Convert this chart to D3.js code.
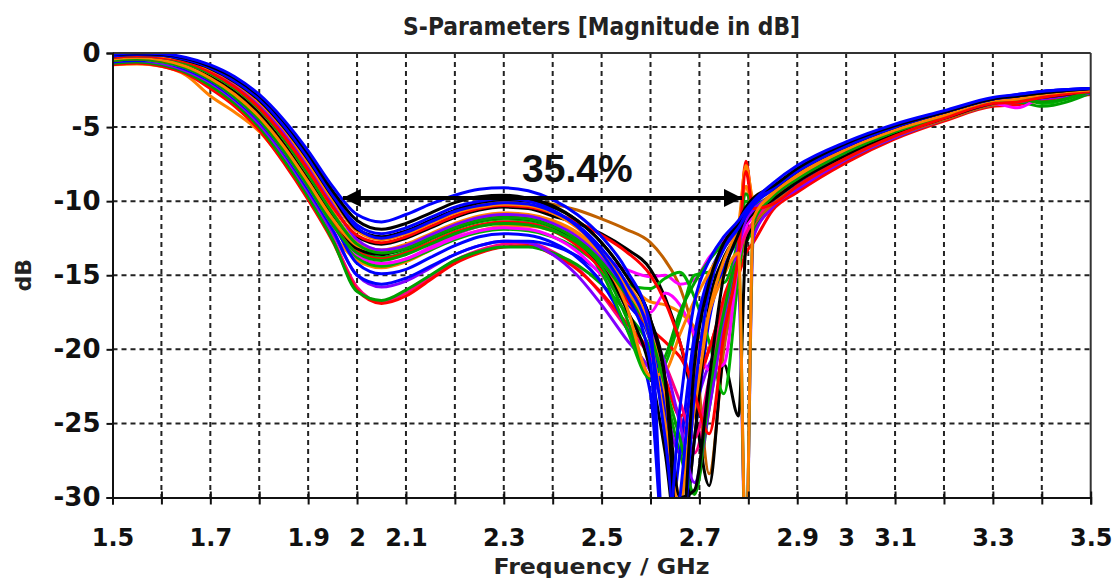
<!DOCTYPE html>
<html><head><meta charset="utf-8">
<script src="https://cdn.jsdelivr.net/npm/d3@7"></script>
<style>body{margin:0;background:#fff}svg{display:block}</style>
</head><body>
<svg id="chart" width="1115" height="578"></svg>
<script>
// ---------- data ----------
const freq = [1.5,1.55,1.6,1.65,1.7,1.75,1.8,1.85,1.9,1.95,2.0,2.05,2.1,2.15,2.2,2.25,2.3,2.35,2.4,2.45,2.5,2.55,2.6,2.63,2.66,2.69,2.72,2.75,2.78,2.795,2.81,2.85,2.9,3.0,3.1,3.2,3.3,3.35,3.4,3.5];

const blue1 = [-0.1,0,-0.05,-0.3,-0.8,-1.6,-2.8,-4.5,-6.6,-9.0,-10.9,-11.4,-10.9,-10.2,-9.6,-9.2,-9.1,-9.3,-9.9,-10.9,-12.4,-14.6,-18.5,-34,-24,-16.8,-14.0,-12.4,-11.3,-10.6,-10.0,-8.8,-7.6,-6.0,-4.8,-3.9,-3.0,-2.8,-2.6,-2.4];
const black1 = [-0.1,-0.05,-0.1,-0.35,-0.9,-1.7,-2.9,-4.6,-6.8,-9.3,-11.3,-11.9,-11.5,-10.8,-10.1,-9.7,-9.6,-9.8,-10.3,-11.3,-12.8,-15.0,-18.0,-22,-34,-21,-15.5,-12.8,-11.4,-10.4,-9.8,-9.0,-7.8,-6.1,-4.9,-4.0,-3.1,-2.9,-2.7,-2.4];
const blue2 = [-0.2,-0.1,-0.15,-0.45,-1.0,-1.9,-3.1,-4.9,-7.1,-9.6,-11.6,-12.2,-11.8,-11.1,-10.4,-10.0,-9.8,-10.0,-10.6,-11.7,-13.5,-16.2,-21,-34,-30,-19.5,-15.5,-13.2,-11.8,-11.0,-10.3,-9.2,-8.0,-6.3,-5.0,-4.0,-3.1,-2.8,-2.6,-2.4];
const red1 = [-0.3,-0.2,-0.3,-0.6,-1.3,-2.3,-3.7,-5.6,-7.9,-10.4,-12.3,-12.8,-12.4,-11.7,-11.0,-10.5,-10.3,-10.4,-10.8,-11.4,-12.3,-13.4,-15.0,-16.8,-19.5,-23,-25.7,-19,-13.5,-8.0,-10.5,-10.2,-9.0,-7.1,-5.6,-4.4,-3.4,-3.3,-3.0,-2.6];
const orange1 = [-0.4,-0.3,-0.45,-0.9,-1.7,-2.8,-4.3,-6.3,-8.7,-11.2,-13.0,-13.4,-13.0,-12.3,-11.6,-11.1,-10.9,-11.0,-11.4,-12.2,-13.8,-17.0,-21.8,-21.5,-19.0,-16.7,-14.8,-13.2,-11.5,-7.6,-9.8,-9.3,-8.1,-6.4,-5.1,-4.1,-3.2,-3.0,-2.8,-2.5];
const green1 = [-0.5,-0.4,-0.5,-1.0,-1.8,-3.0,-4.5,-6.6,-9.0,-11.6,-13.5,-14.0,-13.6,-12.9,-12.2,-11.7,-11.5,-11.6,-12.0,-12.8,-14.4,-17.8,-21.8,-20.5,-17.5,-15.5,-14.0,-12.8,-11.8,-9.5,-10.2,-9.6,-8.4,-6.6,-5.3,-4.2,-3.3,-3.2,-2.9,-2.5];
const magenta1 = [-0.5,-0.4,-0.6,-1.0,-1.8,-3.0,-4.5,-6.6,-9.0,-11.6,-13.8,-14.3,-13.9,-13.1,-12.3,-11.7,-11.4,-11.4,-11.9,-12.8,-13.8,-14.6,-15.1,-15.0,-15.6,-15.3,-13.8,-12.6,-11.6,-10.8,-10.4,-9.8,-8.6,-6.8,-5.4,-4.3,-3.4,-3.7,-3.0,-2.6];
const purple1 = [-0.3,-0.2,-0.3,-0.6,-1.2,-2.2,-3.5,-5.4,-7.7,-10.2,-12.6,-13.3,-13.0,-12.3,-11.6,-11.1,-10.9,-11.0,-11.5,-12.4,-13.9,-16.0,-18.5,-21,-25,-29,-24,-18,-13,-11.3,-10.6,-9.6,-8.4,-6.6,-5.2,-4.2,-3.2,-3.0,-2.8,-2.5];
const pink1 = [-0.7,-0.6,-0.8,-1.3,-2.2,-3.4,-5.0,-7.2,-9.7,-12.5,-15.8,-16.8,-16.2,-15.1,-14.0,-13.3,-12.9,-12.8,-13.4,-14.5,-16.3,-18.5,-20.5,-22.5,-24.5,-27,-23,-18.5,-14.5,-12.5,-11.8,-10.4,-9.2,-7.2,-5.7,-4.5,-3.5,-3.4,-3.1,-2.7];
const red2 = [-0.8,-0.7,-0.9,-1.4,-2.4,-3.6,-5.2,-7.4,-9.9,-12.7,-16.0,-16.9,-16.4,-15.3,-14.2,-13.5,-13.1,-13.0,-13.6,-14.6,-16.2,-18.2,-20.2,-22,-24.5,-23,-20,-17,-15,-13.5,-12.8,-10.6,-9.4,-7.4,-5.8,-4.6,-3.6,-3.5,-3.2,-2.8];
const green2 = [-0.7,-0.6,-0.8,-1.3,-2.2,-3.4,-5.0,-7.2,-9.7,-12.6,-16.1,-16.7,-16.0,-15.0,-14.0,-13.4,-13.1,-13.1,-13.5,-14.3,-15.6,-17.5,-20.0,-23,-27,-29.7,-24,-18,-14,-12.8,-12.0,-10.3,-9.1,-7.2,-5.7,-4.5,-3.5,-3.3,-3.6,-2.7];
const blue3 = [-0.5,-0.4,-0.55,-1.0,-1.8,-2.9,-4.4,-6.4,-8.8,-11.4,-14.2,-14.9,-14.6,-13.8,-13.0,-12.4,-12.2,-12.3,-12.8,-13.8,-15.5,-18.5,-23,-34,-27,-19,-15,-13,-11.8,-11.0,-10.6,-9.8,-8.6,-6.8,-5.4,-4.3,-3.4,-3.2,-3.0,-2.6];
const black2 = [-0.4,-0.3,-0.4,-0.8,-1.6,-2.6,-4.1,-6.1,-8.5,-11.0,-13.2,-13.6,-13.2,-12.5,-11.8,-11.3,-11.1,-11.2,-11.7,-12.7,-14.4,-17.2,-21.5,-27,-34,-26,-17,-13.8,-12.2,-11.4,-10.8,-9.9,-8.7,-6.9,-5.5,-4.4,-3.4,-3.2,-3.0,-2.6];
const orange2 = [-0.2,-0.1,-0.2,-0.5,-1.1,-2.0,-3.3,-5.1,-7.4,-9.9,-12.0,-12.6,-12.2,-11.5,-10.8,-10.4,-10.2,-10.3,-10.8,-11.8,-13.4,-15.8,-19.5,-25,-30.5,-22,-17.5,-15,-13.5,-34,-11.2,-9.5,-8.3,-6.5,-5.2,-4.2,-3.2,-3.1,-2.8,-2.5];
const green3 = [-0.3,-0.2,-0.3,-0.7,-1.4,-2.4,-3.8,-5.8,-8.2,-10.8,-12.9,-13.5,-13.2,-12.5,-11.8,-11.3,-11.1,-11.2,-11.7,-12.6,-14.1,-16.3,-19.0,-22.5,-26,-29.8,-23,-17.5,-14,-34,-11.5,-9.7,-8.5,-6.7,-5.3,-4.3,-3.3,-3.1,-3.3,-2.6];
const brown1 = [-0.2,-0.1,-0.2,-0.5,-1.1,-2.0,-3.3,-5.1,-7.3,-9.8,-12.0,-12.5,-12.1,-11.4,-10.7,-10.2,-10.0,-10.0,-10.2,-10.6,-11.2,-11.9,-12.8,-14.0,-15.8,-19.5,-28.4,-20,-14.5,-12.5,-11.6,-10.2,-9.0,-7.1,-5.6,-4.5,-3.5,-3.3,-3.0,-2.6];
const black3 = [-0.3,-0.2,-0.3,-0.7,-1.3,-2.3,-3.6,-5.5,-7.8,-10.3,-12.4,-12.9,-12.5,-11.8,-11.1,-10.6,-10.4,-10.5,-11.0,-11.5,-12.2,-13.2,-14.6,-16.5,-19.5,-24,-29.2,-21,-24.5,-13,-11.5,-9.9,-8.7,-6.9,-5.5,-4.4,-3.4,-3.2,-3.0,-2.6];
const magenta2 = [-0.4,-0.3,-0.45,-0.85,-1.6,-2.7,-4.2,-6.2,-8.6,-11.1,-13.6,-14.2,-13.9,-13.2,-12.5,-12.0,-11.8,-11.9,-12.4,-13.4,-15.0,-16.8,-17.5,-16.2,-17.0,-19.0,-21.4,-21,-14,-11.8,-11.0,-9.8,-8.6,-6.8,-5.4,-4.3,-3.4,-3.2,-2.9,-2.6];
const purple2 = [-0.6,-0.5,-0.7,-1.2,-2.0,-3.2,-4.8,-6.9,-9.4,-12.1,-15.0,-15.8,-15.4,-14.5,-13.6,-13.0,-12.7,-12.8,-13.6,-15.0,-17.0,-19.3,-21.5,-24,-27,-24,-21,-19.5,-16,-34,-12.5,-10.4,-9.2,-7.2,-5.7,-4.5,-3.5,-3.3,-3.1,-2.7];
const blue4 = [-0.15,-0.05,-0.1,-0.4,-0.95,-1.8,-3.0,-4.8,-7.0,-9.5,-11.8,-12.5,-12.1,-11.4,-10.7,-10.3,-10.1,-10.2,-10.7,-11.6,-13.2,-15.5,-19.5,-26,-34,-23,-16,-13.2,-11.6,-10.8,-10.2,-9.1,-7.9,-6.2,-4.9,-4.0,-3.1,-2.9,-2.6,-2.4];
const orange3 = [-0.8,-0.75,-0.9,-1.5,-2.9,-4.0,-5.3,-7.3,-9.6,-12.2,-14.0,-14.5,-14.1,-13.3,-12.5,-12.0,-11.7,-11.7,-12.0,-12.7,-13.8,-15.4,-16.8,-17.0,-17.5,-18.5,-20,-17.5,-13.5,-9.0,-10.8,-9.6,-8.4,-6.6,-5.3,-4.2,-3.3,-3.1,-2.8,-2.5];
const green4 = [-0.5,-0.4,-0.6,-1.0,-1.8,-2.9,-4.4,-6.5,-8.9,-11.5,-13.2,-13.8,-13.4,-12.6,-11.9,-11.4,-11.2,-11.3,-11.8,-12.8,-14.8,-18.5,-22.0,-21.0,-18.0,-15.0,-14.8,-15.5,-12.5,-10.0,-10.5,-9.5,-8.3,-6.5,-5.2,-4.2,-3.2,-3.0,-3.4,-2.5];
const red3 = [-0.5,-0.4,-0.5,-0.9,-1.7,-2.8,-4.3,-6.3,-8.7,-11.2,-13.4,-13.9,-13.5,-12.8,-12.1,-11.6,-11.4,-11.5,-12.0,-13.0,-14.6,-16.6,-18.6,-19.5,-20.5,-22,-20,-16.5,-12.8,-7.3,-10.2,-9.7,-8.5,-6.7,-5.3,-4.3,-3.3,-3.2,-2.9,-2.6];
const black4 = [-0.2,-0.1,-0.15,-0.5,-1.05,-1.95,-3.2,-5.0,-7.2,-9.7,-11.9,-12.4,-12.0,-11.3,-10.6,-10.1,-9.9,-10.0,-10.4,-11.3,-12.8,-15.0,-18.0,-22,-30,-29.5,-22,-15,-12.2,-10.9,-10.2,-9.2,-8.0,-6.3,-5.0,-4.0,-3.1,-2.9,-2.7,-2.4];
const pink2 = [-0.4,-0.3,-0.4,-0.8,-1.5,-2.5,-3.9,-5.9,-8.3,-10.9,-13.0,-13.5,-13.1,-12.4,-11.7,-11.2,-11.0,-11.2,-11.8,-12.8,-14.3,-16.4,-18.8,-21,-23.5,-26,-22,-17,-13.5,-12.2,-11.4,-9.9,-8.7,-6.9,-5.5,-4.4,-3.4,-3.2,-3.0,-2.6];
const blue5 = [-0.6,-0.5,-0.6,-1.1,-1.9,-3.1,-4.6,-6.7,-9.2,-11.9,-15.0,-15.6,-15.2,-14.4,-13.6,-13.0,-12.7,-12.7,-13.0,-13.7,-14.9,-16.8,-19.5,-24,-34,-26,-18,-14.5,-12.5,-11.5,-11.0,-10.0,-8.8,-7.0,-5.5,-4.4,-3.4,-3.3,-3.0,-2.6];
const green5 = [-0.4,-0.3,-0.4,-0.9,-1.6,-2.7,-4.2,-6.2,-8.6,-11.2,-13.8,-14.4,-14.0,-13.3,-12.6,-12.1,-11.9,-12.0,-12.4,-13.2,-14.4,-15.6,-15.9,-15.2,-14.8,-16.5,-19.5,-23,-15,-11.5,-10.8,-9.8,-8.6,-6.8,-5.4,-4.3,-3.4,-3.2,-3.0,-2.6];
const orange4 = [-0.3,-0.2,-0.35,-0.7,-1.4,-2.4,-3.8,-5.8,-8.2,-10.7,-12.8,-13.3,-12.9,-12.2,-11.5,-11.0,-10.8,-10.9,-11.3,-12.1,-13.5,-15.5,-18.5,-23,-29.8,-24,-17.5,-14,-12,-11,-10.5,-9.5,-8.3,-6.5,-5.2,-4.2,-3.2,-3.0,-2.8,-2.5];

const xTickValues = [1.5,1.6,1.7,1.8,1.9,2.0,2.1,2.2,2.3,2.4,2.5,2.6,2.7,2.8,2.9,3.0,3.1,3.2,3.3,3.4,3.5];
const xTickLabels = ["1.5","","1.7","","1.9","2","2.1","","2.3","","2.5","","2.7","","2.9","3","3.1","","3.3","","3.5"];
const yTickValues = [0,-5,-10,-15,-20,-25,-30];
const yTickLabels = ["0","-5","-10","-15","-20","-25","-30"];
const bandEdges = [1.971, 2.787];
const bandLevel = -9.78;
const bandLabel = "35.4%";
const titleText = "S-Parameters [Magnitude in dB]";
const xLabelText = "Frequency / GHz";
const yLabelText = "dB";

// table built from the named arrays (draw order: first = bottom)
const series = [
  {values: orange3, color: "#ff8000"},
  {values: pink1, color: "#ff0080"},
  {values: red2, color: "#ff0000"},
  {values: green2, color: "#00a000"},
  {values: purple2, color: "#8000ff"},
  {values: blue5, color: "#0000ff"},
  {values: brown1, color: "#c06000"},
  {values: magenta1, color: "#ff00ff"},
  {values: black3, color: "#000000"},
  {values: green5, color: "#00b000"},
  {values: blue3, color: "#0000ff"},
  {values: magenta2, color: "#ff00ff"},
  {values: pink2, color: "#ff0080"},
  {values: green4, color: "#00b000"},
  {values: red3, color: "#ff0000"},
  {values: black2, color: "#000000"},
  {values: orange4, color: "#ff8000"},
  {values: green1, color: "#00a000"},
  {values: orange1, color: "#ff8000"},
  {values: purple1, color: "#8000ff"},
  {values: green3, color: "#00a000"},
  {values: red1, color: "#ff0000"},
  {values: orange2, color: "#ff8000"},
  {values: black4, color: "#000000"},
  {values: blue4, color: "#0000ff"},
  {values: blue2, color: "#0000ff"},
  {values: black1, color: "#000000"},
  {values: blue1, color: "#0000ff"}
];

// ---------- layout ----------
const svg = d3.select("#chart");
const L = 112.5, R = 1090.7, T = 53, B = 497.5;
const x = d3.scaleLinear().domain([1.5, 3.5]).range([L, R]);
const y = d3.scaleLinear().domain([-30, 0]).range([B, T]);
const boldFont = "'DejaVu Sans', Verdana, sans-serif";

svg.append("defs").append("clipPath").attr("id", "plotclip")
  .append("rect").attr("x", L).attr("y", T).attr("width", R - L).attr("height", B - T);

// grid
const grid = svg.append("g");
grid.selectAll("line.vg").data(xTickValues.slice(1, -1)).join("line")
  .attr("x1", d => x(d)).attr("x2", d => x(d)).attr("y1", T).attr("y2", B)
  .attr("stroke", "#222").attr("stroke-width", 2).attr("stroke-dasharray", "5,4");
grid.selectAll("line.hg").data(yTickValues.slice(1, -1)).join("line")
  .attr("x1", L).attr("x2", R).attr("y1", d => y(d)).attr("y2", d => y(d))
  .attr("stroke", "#222").attr("stroke-width", 2).attr("stroke-dasharray", "5,4");

// curves
const line = d3.line()
  .x((d, i) => x(freq[i]))
  .y(d => y(d))
  .curve(d3.curveMonotoneX);
svg.append("g").attr("clip-path", "url(#plotclip)")
  .selectAll("path").data(series).join("path")
  .attr("d", d => line(d.values))
  .attr("fill", "none").attr("stroke", d => d.color)
  .attr("stroke-width", 3).attr("stroke-linejoin", "round");

// frame
svg.append("line").attr("x1", L).attr("x2", R).attr("y1", T).attr("y2", T).attr("stroke", "#333").attr("stroke-width", 2);
svg.append("line").attr("x1", R).attr("x2", R).attr("y1", T).attr("y2", B).attr("stroke", "#333").attr("stroke-width", 2);

// axes
const xAxis = d3.axisBottom(x).tickValues(xTickValues).tickSize(7)
  .tickFormat((d, i) => xTickLabels[i]);
const gx = svg.append("g").attr("transform", `translate(0,${B})`).call(xAxis);
gx.select(".domain").attr("stroke", "#111").attr("stroke-width", 2);
gx.selectAll(".tick line").attr("y1", -6).attr("stroke", "#111").attr("stroke-width", 2);
gx.selectAll(".tick text").attr("y", 48).attr("dy", null)
  .attr("font-family", boldFont).attr("font-weight", "bold")
  .attr("font-size", 24).attr("fill", "#111");

const yAxis = d3.axisLeft(y).tickValues(yTickValues).tickSize(6)
  .tickFormat((d, i) => yTickLabels[i]).tickPadding(6);
const gy = svg.append("g").attr("transform", `translate(${L},0)`).call(yAxis);
gy.select(".domain").attr("stroke", "#111").attr("stroke-width", 2);
gy.selectAll(".tick line").attr("stroke", "#111").attr("stroke-width", 2);
gy.selectAll(".tick text").attr("font-family", boldFont).attr("font-weight", "bold")
  .attr("font-size", 26).attr("fill", "#111");

// titles
svg.append("text").attr("x", (L + R) / 2).attr("y", 35).attr("text-anchor", "middle")
  .attr("font-family", boldFont).attr("font-weight", "bold").attr("font-size", 25)
  .attr("fill", "#222").attr("textLength", 397).attr("lengthAdjust", "spacingAndGlyphs")
  .text(titleText);
svg.append("text").attr("x", (L + R) / 2).attr("y", 574).attr("text-anchor", "middle")
  .attr("font-family", boldFont).attr("font-weight", "bold").attr("font-size", 21)
  .attr("fill", "#222").attr("textLength", 216).attr("lengthAdjust", "spacingAndGlyphs")
  .text(xLabelText);
svg.append("text").attr("transform", `translate(31,${(T + B) / 2}) rotate(-90)`)
  .attr("text-anchor", "middle")
  .attr("font-family", boldFont).attr("font-weight", "bold").attr("font-size", 22)
  .attr("fill", "#222").text(yLabelText);

// bandwidth annotation
svg.append("defs").html(`
  <marker id="ah" viewBox="0 0 10 10" refX="10" refY="5" markerWidth="5.5" markerHeight="4.5" markerUnits="strokeWidth" orient="auto-start-reverse">
    <path d="M0,0 L10,5 L0,10 z" fill="#000"/>
  </marker>`);
svg.append("line")
  .attr("x1", x(bandEdges[0])).attr("x2", x(bandEdges[1]))
  .attr("y1", y(bandLevel)).attr("y2", y(bandLevel))
  .attr("stroke", "#000").attr("stroke-width", 4)
  .attr("marker-start", "url(#ah)").attr("marker-end", "url(#ah)");
svg.append("text").attr("x", 522).attr("y", 182)
  .attr("font-family", "'Liberation Sans', Arial, sans-serif").attr("font-weight", "bold")
  .attr("font-size", 39).attr("fill", "#111").text(bandLabel);
</script>
</body></html>
